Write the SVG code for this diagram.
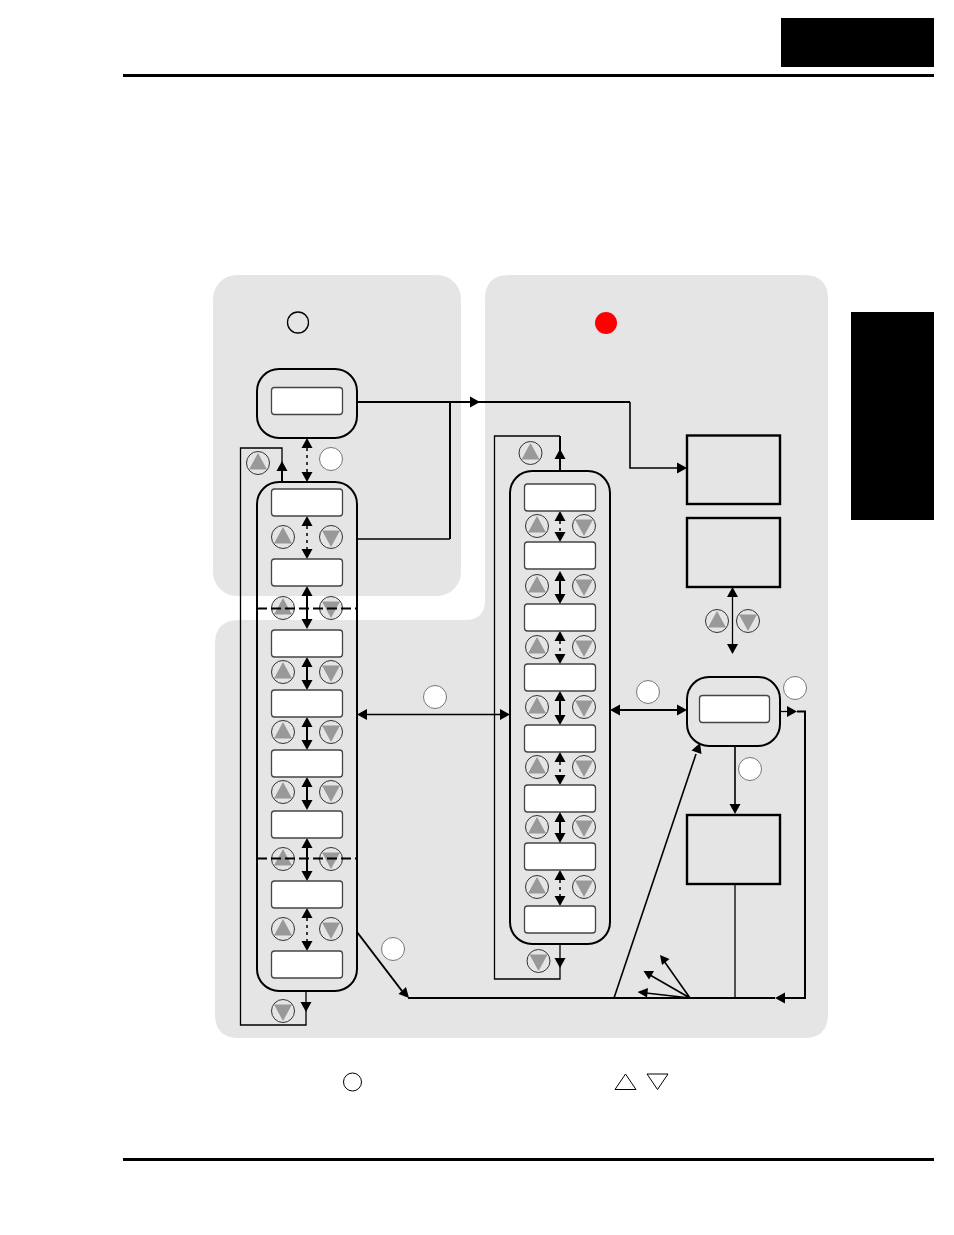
<svg xmlns="http://www.w3.org/2000/svg" width="954" height="1235" viewBox="0 0 954 1235">
<style>
.panel{fill:#e5e5e5}
.shell{fill:#e5e5e5;stroke:#000;stroke-width:2}
.shell-open{fill:none;stroke:#000;stroke-width:2}
.lcd{fill:#fff;stroke:#444;stroke-width:1.3}
.box{fill:#e5e5e5;stroke:#000;stroke-width:2.400}
.btn{fill:#e5e5e5;stroke:#333;stroke-width:1}
.tri{fill:#999}
.badge{fill:#fff;stroke:#777;stroke-width:1}
.ln{fill:none;stroke:#000;stroke-width:2}
.mid{fill:none;stroke:#000;stroke-width:1.600}
.thin{fill:none;stroke:#000;stroke-width:1.300}
.dot{fill:none;stroke:#000;stroke-width:1.500;stroke-dasharray:3 4}
.dash{fill:none;stroke:#000;stroke-width:2;stroke-dasharray:10 4}
.head{fill:#000}
</style>
<defs>
<g id="up"><circle class="btn" r="11.500"/><polygon class="tri" points="0,-10 9,6.500 -9,6.500"/></g>
<g id="dn"><circle class="btn" r="11.500"/><polygon class="tri" points="0,10 9,-6.500 -9,-6.500"/></g>
<polygon id="hu" class="head" points="0,0 5.500,10 -5.500,10"/>
<polygon id="hd" class="head" points="0,0 5.500,-10 -5.500,-10"/>
<polygon id="hl" class="head" points="0,0 10,-5.500 10,5.500"/>
<polygon id="hr" class="head" points="0,0 -10,-5.500 -10,5.500"/>
</defs>

<rect id="header-tab" x="781" y="18" width="153" height="49" fill="#000"/>
<rect id="side-tab" x="851" y="312" width="83" height="208" fill="#000"/>
<rect id="rule-top" x="123" y="74" width="811" height="3" fill="#000"/>
<rect id="rule-bottom" x="123" y="1158" width="811" height="3" fill="#000"/>

<rect id="panel-stop" class="panel" x="213" y="275" width="248" height="321" rx="24"/>
<path id="panel-run" class="panel" d="M509 275H804Q828 275 828 299V1014Q828 1038 804 1038H239Q215 1038 215 1014V644Q215 620 239 620H465Q485 620 485 600V299Q485 275 509 275Z"/>

<g id="connectors">
<path class="ln" d="M357 402H630"/><path class="mid" d="M630 402V468H680"/>
<path class="ln" d="M450 402V539"/><path class="mid" d="M357 539H450"/>
<path class="thin" d="M282 465V448H240.500V1025H306V991"/>
<path class="ln" d="M282 482V465"/>
<path class="thin" d="M560 436H494.500V979H560V944"/>
<path class="ln" d="M560 471V436"/>
<path class="dot" d="M307 448V472"/><path class="dot" d="M307 526V549"/><path class="dot" d="M307 918V941"/>
<path class="ln" d="M307 596V619"/><path class="ln" d="M307 667V680"/><path class="ln" d="M307 727V740"/><path class="ln" d="M307 787V800"/><path class="ln" d="M307 848V871"/>
<path class="dot" d="M560 521V532"/><path class="ln" d="M560 579V594"/><path class="dot" d="M560 641V654"/><path class="ln" d="M560 701V715"/><path class="dot" d="M560 762V775"/><path class="ln" d="M560 822V833"/><path class="dot" d="M560 880V896"/>
<path class="thin" d="M732.500 597V644"/>
<path class="thin" d="M367 714.500H500"/>
<path class="ln" d="M620 710H677"/>
<path class="mid" d="M735 746V804"/>
<path class="thin" d="M780 711.500H787"/>
<path class="ln" d="M797 711.500H805V998H785"/>
<path class="ln" d="M775 998H408"/>
<path class="ln" d="M357 932L402 991"/>
<path class="mid" d="M614 998L696 754"/>
<path class="thin" d="M735 884V998"/>
<path class="mid" d="M690 998L664 961M690 998L650 975M690 998L646 993"/>
<use href="#hr" x="480" y="402"/>
<use href="#hr" x="687" y="468"/>
<use href="#hu" x="282" y="461"/><use href="#hd" x="306" y="1012"/>
<use href="#hu" x="560" y="449"/><use href="#hd" x="560" y="968"/>
<use href="#hu" x="307" y="438"/><use href="#hd" x="307" y="482"/>
<use href="#hu" x="307" y="516"/><use href="#hd" x="307" y="559"/>
<use href="#hu" x="307" y="586"/><use href="#hd" x="307" y="629"/>
<use href="#hu" x="307" y="657"/><use href="#hd" x="307" y="690"/>
<use href="#hu" x="307" y="717"/><use href="#hd" x="307" y="750"/>
<use href="#hu" x="307" y="777"/><use href="#hd" x="307" y="810"/>
<use href="#hu" x="307" y="838"/><use href="#hd" x="307" y="881"/>
<use href="#hu" x="307" y="908"/><use href="#hd" x="307" y="951"/>
<use href="#hu" x="560" y="511"/><use href="#hd" x="560" y="542"/>
<use href="#hu" x="560" y="571"/><use href="#hd" x="560" y="604"/>
<use href="#hu" x="560" y="631"/><use href="#hd" x="560" y="664"/>
<use href="#hu" x="560" y="691"/><use href="#hd" x="560" y="725"/>
<use href="#hu" x="560" y="752"/><use href="#hd" x="560" y="785"/>
<use href="#hu" x="560" y="812"/><use href="#hd" x="560" y="843"/>
<use href="#hu" x="560" y="870"/><use href="#hd" x="560" y="906"/>
<use href="#hu" x="732.500" y="587"/><use href="#hd" x="732.500" y="654"/>
<use href="#hl" x="357" y="714.500"/><use href="#hr" x="510" y="714.500"/>
<use href="#hl" x="610" y="710"/><use href="#hr" x="687" y="710"/>
<use href="#hd" x="735" y="814"/>
<use href="#hr" x="797" y="711.500"/>
<use href="#hl" x="775" y="998"/>
<polygon class="head" points="409,998 398.500,994 406,987"/>
<polygon class="head" points="700,743 701.500,754 691.500,750.500"/>
<polygon class="head" points="660,955 669.500,959 662,965"/>
<polygon class="head" points="643.500,971 654,971 649,979.500"/>
<polygon class="head" points="637.500,992 648,988 647,997.500"/>
</g>

<g id="node-stop-display"><rect class="shell" x="257" y="369" width="100" height="69" rx="22"/><rect class="lcd" x="271.500" y="387.500" width="71" height="27" rx="3"/></g>
<g id="node-group-list">
<rect class="shell-open" x="257" y="482" width="100" height="509" rx="22"/>
<rect class="lcd" x="271.500" y="489" width="71" height="27" rx="3"/>
<rect class="lcd" x="271.500" y="559" width="71" height="27" rx="3"/>
<rect class="lcd" x="271.500" y="630" width="71" height="27" rx="3"/>
<rect class="lcd" x="271.500" y="690" width="71" height="27" rx="3"/>
<rect class="lcd" x="271.500" y="750" width="71" height="27" rx="3"/>
<rect class="lcd" x="271.500" y="811" width="71" height="27" rx="3"/>
<rect class="lcd" x="271.500" y="881" width="71" height="27" rx="3"/>
<rect class="lcd" x="271.500" y="951" width="71" height="27" rx="3"/>
<use href="#up" x="283" y="537"/><use href="#dn" x="331" y="537"/>
<use href="#up" x="283" y="608"/><use href="#dn" x="331" y="608"/>
<use href="#up" x="283" y="672"/><use href="#dn" x="331" y="672"/>
<use href="#up" x="283" y="732"/><use href="#dn" x="331" y="732"/>
<use href="#up" x="283" y="792"/><use href="#dn" x="331" y="792"/>
<use href="#up" x="283" y="859"/><use href="#dn" x="331" y="859"/>
<use href="#up" x="283" y="929"/><use href="#dn" x="331" y="929"/>
<path class="dash" d="M257 608.500H357M257 858.500H357"/>
</g>
<g id="node-function-list">
<rect class="shell-open" x="510" y="471" width="100" height="473" rx="22"/>
<rect class="lcd" x="524.500" y="484" width="71" height="27" rx="3"/>
<rect class="lcd" x="524.500" y="542" width="71" height="27" rx="3"/>
<rect class="lcd" x="524.500" y="604" width="71" height="27" rx="3"/>
<rect class="lcd" x="524.500" y="664" width="71" height="27" rx="3"/>
<rect class="lcd" x="524.500" y="725" width="71" height="27" rx="3"/>
<rect class="lcd" x="524.500" y="785" width="71" height="27" rx="3"/>
<rect class="lcd" x="524.500" y="843" width="71" height="27" rx="3"/>
<rect class="lcd" x="524.500" y="906" width="71" height="27" rx="3"/>
<use href="#up" x="537" y="526"/><use href="#dn" x="584" y="526"/>
<use href="#up" x="537" y="586"/><use href="#dn" x="584" y="586"/>
<use href="#up" x="537" y="647"/><use href="#dn" x="584" y="647"/>
<use href="#up" x="537" y="707"/><use href="#dn" x="584" y="707"/>
<use href="#up" x="537" y="767"/><use href="#dn" x="584" y="767"/>
<use href="#up" x="537" y="827"/><use href="#dn" x="584" y="827"/>
<use href="#up" x="537" y="887"/><use href="#dn" x="584" y="887"/>
</g>
<g id="node-edit"><rect class="shell" x="687" y="677" width="93" height="69" rx="22"/><rect class="lcd" x="699.500" y="695.500" width="70" height="27" rx="3"/></g>
<g id="box-a"><rect class="box" x="687" y="435.500" width="93" height="68.500"/></g>
<g id="box-b"><rect class="box" x="687" y="518" width="93" height="69"/></g>
<g id="box-c"><rect class="box" x="687" y="815" width="93" height="69"/></g>

<g id="buttons">
<use href="#up" x="258" y="463"/><use href="#dn" x="283" y="1011"/>
<use href="#up" x="530.500" y="453"/><use href="#dn" x="538.500" y="961"/>
<use href="#up" x="717" y="621"/><use href="#dn" x="748" y="621"/>
</g>
<g id="badges">
<circle class="badge" cx="331" cy="459" r="11.500"/>
<circle class="badge" cx="435" cy="697" r="11.500"/>
<circle class="badge" cx="648" cy="692" r="11.500"/>
<circle class="badge" cx="795" cy="688" r="11.500"/>
<circle class="badge" cx="750" cy="769" r="11.500"/>
<circle class="badge" cx="393" cy="949" r="11.500"/>
</g>
<g id="lamps">
<circle cx="298" cy="322.500" r="10.500" fill="#e5e5e5" stroke="#000" stroke-width="1.300"/>
<circle cx="606" cy="323" r="11" fill="#f00"/>
</g>
<g id="legend" fill="none" stroke="#000" stroke-width="1">
<circle cx="352.500" cy="1082" r="9"/>
<polygon points="625.500,1074 636,1089.500 615,1089.500"/>
<polygon points="657.500,1089.500 647,1074 668,1074"/>
</g>
</svg>
